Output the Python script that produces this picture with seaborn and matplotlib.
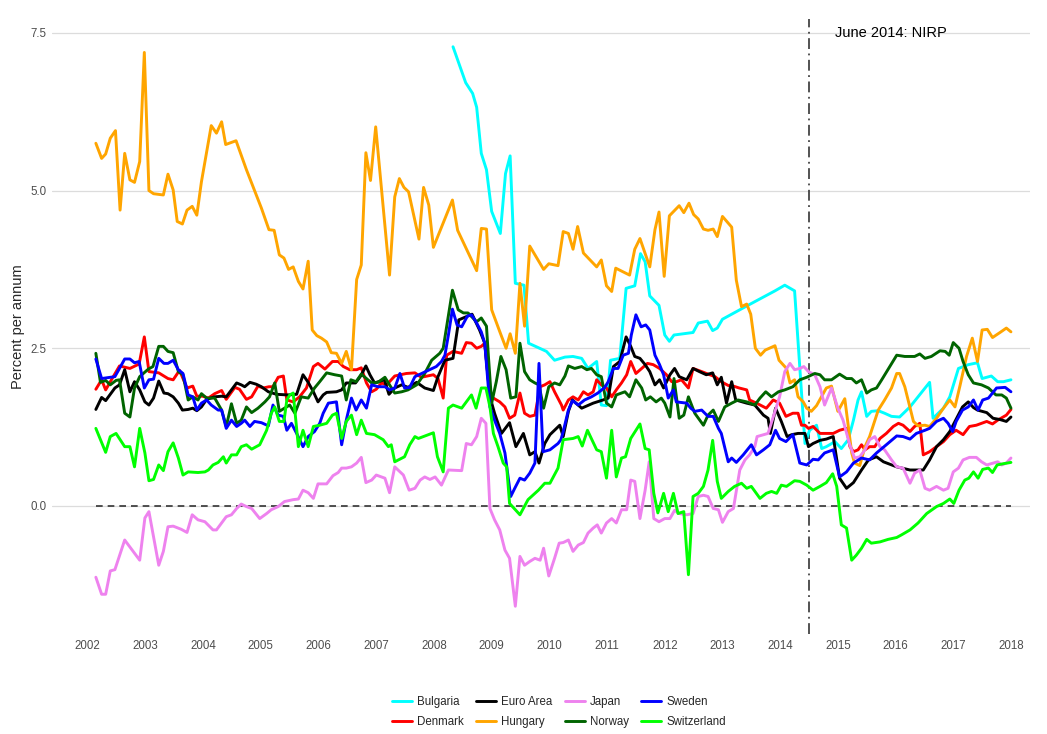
import pandas as pd
import seaborn as sns
import matplotlib.pyplot as plt

# данные (годы в десятичном виде, проценты годовых)
countries = ['Bulgaria', 'Denmark', 'Euro Area', 'Hungary', 'Japan', 'Norway', 'Sweden', 'Switzerland']
colors = ['#00FFFF', '#FF0000', '#000000', '#FFA500', '#EE82EE', '#006400', '#0000FF', '#00FF00']

bg_x = [2008.33, 2008.55, 2008.67, 2008.74, 2008.82, 2008.91, 2009.00, 2009.15, 2009.24, 2009.32, 2009.41, 2009.56,
        2009.64, 2009.95, 2010.01, 2010.09, 2010.27, 2010.41, 2010.56, 2010.67, 2010.82, 2010.90, 2010.99, 2011.06,
        2011.22, 2011.33, 2011.48, 2011.58, 2011.66, 2011.74, 2011.90, 2012.00, 2012.08, 2012.16, 2012.49, 2012.58,
        2012.74, 2012.83, 2012.91, 2013.00, 2013.42, 2013.91, 2014.08, 2014.25, 2014.43, 2014.51, 2014.63, 2014.72,
        2014.80, 2014.95, 2015.06, 2015.18, 2015.27, 2015.35, 2015.41, 2015.50, 2015.58, 2015.70, 2015.81, 2015.93,
        2016.07, 2016.25, 2016.59, 2016.65, 2016.83, 2016.94, 2017.09, 2017.26, 2017.42, 2017.50, 2017.66, 2017.77,
        2017.87, 2018.00]
bg_y = [7.28, 6.71, 6.54, 6.32, 5.59, 5.33, 4.67, 4.32, 5.27, 5.55, 3.53, 3.50,
        2.58, 2.45, 2.39, 2.31, 2.36, 2.37, 2.34, 2.18, 2.29, 1.60, 1.59, 2.31,
        2.34, 3.45, 3.49, 4.00, 3.87, 3.33, 3.18, 2.71, 2.61, 2.71, 2.75, 2.90,
        2.93, 2.78, 2.82, 2.96, 3.17, 3.41, 3.50, 3.41, 0.99, 1.20, 1.28, 0.91,
        0.94, 1.02, 0.91, 1.05, 1.36, 1.68, 1.81, 1.42, 1.50, 1.51, 1.47, 1.42,
        1.41, 1.57, 1.96, 1.39, 1.55, 1.73, 2.18, 2.24, 2.27, 2.02, 2.06, 1.97,
        1.97, 2.00]

dk_x = [2002.14, 2002.24, 2002.31, 2002.41, 2002.55, 2002.73, 2002.89, 2002.98, 2003.06, 2003.23, 2003.39, 2003.48,
        2003.59, 2003.72, 2003.82, 2003.89, 2003.99, 2004.09, 2004.20, 2004.32, 2004.40, 2004.55, 2004.63, 2004.75,
        2004.84, 2004.95, 2005.04, 2005.14, 2005.21, 2005.30, 2005.39, 2005.45, 2005.56, 2005.67, 2005.79, 2005.91,
        2005.99, 2006.11, 2006.24, 2006.34, 2006.43, 2006.54, 2006.66, 2006.74, 2006.83, 2006.92, 2007.00, 2007.09,
        2007.18, 2007.32, 2007.52, 2007.67, 2007.78, 2007.99, 2008.07, 2008.16, 2008.22, 2008.33, 2008.48, 2008.56,
        2008.65, 2008.74, 2008.82, 2008.88, 2008.97, 2009.03, 2009.14, 2009.23, 2009.31, 2009.40, 2009.49, 2009.57,
        2009.66, 2009.75, 2009.84, 2009.92, 2010.01, 2010.09, 2010.21, 2010.24, 2010.33, 2010.41, 2010.50, 2010.59,
        2010.67, 2010.76, 2010.82, 2010.90, 2010.99, 2011.08, 2011.16, 2011.25, 2011.34, 2011.41, 2011.50, 2011.60,
        2011.70, 2011.80, 2011.91, 2012.03, 2012.12, 2012.20, 2012.29, 2012.41, 2012.49, 2012.64, 2012.78, 2012.87,
        2012.98, 2013.10, 2013.19, 2013.29, 2013.42, 2013.47, 2013.59, 2013.76, 2013.88, 2013.99, 2014.10, 2014.22,
        2014.31, 2014.37, 2014.43, 2014.49, 2014.57, 2014.69, 2014.80, 2014.92, 2015.03, 2015.15, 2015.21, 2015.27,
        2015.35, 2015.41, 2015.47, 2015.55, 2015.64, 2015.73, 2015.84, 2015.96, 2016.05, 2016.13, 2016.25, 2016.33,
        2016.42, 2016.48, 2016.59, 2016.71, 2016.83, 2016.94, 2017.05, 2017.17, 2017.28, 2017.40, 2017.58, 2017.68,
        2017.77, 2017.92, 2018.00]
dk_y = [1.85, 2.00, 1.84, 2.00, 2.22, 2.18, 2.25, 2.68, 2.13, 2.11, 2.02, 2.00,
        2.15, 1.87, 1.90, 1.74, 1.74, 1.71, 1.78, 1.83, 1.69, 1.88, 1.85, 1.69,
        1.73, 1.90, 1.87, 1.89, 1.89, 2.04, 2.06, 1.68, 1.65, 1.73, 1.87, 2.21,
        2.26, 2.17, 2.29, 2.29, 2.21, 2.16, 2.16, 2.19, 1.95, 1.81, 1.85, 1.95,
        1.92, 2.06, 2.10, 2.11, 2.04, 2.08, 2.02, 1.71, 2.39, 2.45, 2.42, 2.59,
        2.58, 2.50, 2.53, 2.58, 1.75, 1.71, 1.65, 1.57, 1.39, 1.44, 1.79, 1.47,
        1.42, 1.44, 1.89, 1.92, 1.97, 1.81, 1.60, 1.52, 1.68, 1.73, 1.68, 1.81,
        1.76, 1.81, 2.00, 1.92, 1.87, 1.73, 1.84, 1.95, 2.08, 2.29, 2.10, 2.18,
        2.26, 2.24, 2.18, 2.08, 1.97, 1.97, 2.00, 1.87, 2.18, 2.13, 2.08, 2.05,
        1.97, 1.91, 1.90, 1.87, 1.84, 1.68, 1.63, 1.55, 1.68, 1.63, 1.42, 1.47,
        1.47, 1.28, 1.28, 1.23, 1.26, 1.15, 1.15, 1.15, 1.20, 1.23, 0.94, 0.86,
        0.89, 0.97, 0.89, 0.94, 0.94, 1.07, 1.15, 1.26, 1.31, 1.28, 1.18, 1.26,
        1.31, 0.81, 0.86, 0.94, 1.02, 1.13, 1.20, 1.13, 1.26, 1.28, 1.34, 1.30,
        1.36, 1.44, 1.53]

ea_x = [2002.14, 2002.24, 2002.31, 2002.47, 2002.55, 2002.64, 2002.73, 2002.81, 2002.90, 2002.99, 2003.06, 2003.14,
        2003.23, 2003.32, 2003.39, 2003.48, 2003.57, 2003.64, 2003.74, 2003.82, 2003.89, 2003.97, 2004.06, 2004.20,
        2004.32, 2004.40, 2004.58, 2004.66, 2004.72, 2004.81, 2004.92, 2005.01, 2005.13, 2005.27, 2005.47, 2005.62,
        2005.73, 2005.82, 2005.91, 2005.99, 2006.08, 2006.14, 2006.31, 2006.40, 2006.48, 2006.64, 2006.73, 2006.82,
        2006.89, 2006.97, 2007.14, 2007.22, 2007.32, 2007.44, 2007.55, 2007.70, 2007.84, 2007.99, 2008.07, 2008.19,
        2008.33, 2008.43, 2008.66, 2008.79, 2008.88, 2008.97, 2009.05, 2009.17, 2009.31, 2009.42, 2009.55, 2009.66,
        2009.75, 2009.82, 2009.92, 2010.01, 2010.18, 2010.24, 2010.33, 2010.40, 2010.56, 2010.76, 2010.93, 2011.02,
        2011.11, 2011.22, 2011.33, 2011.41, 2011.48, 2011.57, 2011.66, 2011.74, 2011.83, 2011.91, 2011.98, 2012.09,
        2012.17, 2012.25, 2012.38, 2012.49, 2012.60, 2012.72, 2012.83, 2012.91, 2012.98, 2013.07, 2013.16, 2013.23,
        2013.42, 2013.56, 2013.71, 2013.79, 2013.83, 2013.92, 2014.02, 2014.12, 2014.20, 2014.31, 2014.43, 2014.49,
        2014.57, 2014.69, 2014.80, 2014.92, 2015.03, 2015.15, 2015.27, 2015.41, 2015.53, 2015.67, 2015.79, 2016.02,
        2016.25, 2016.48, 2016.59, 2016.71, 2016.83, 2016.94, 2017.03, 2017.16, 2017.26, 2017.35, 2017.42, 2017.58,
        2017.69, 2017.81, 2017.92, 2018.00]
ea_y = [1.53, 1.72, 1.67, 1.87, 1.92, 2.16, 1.81, 1.97, 1.84, 1.65, 1.60, 1.71,
        1.98, 1.79, 1.78, 1.73, 1.63, 1.52, 1.53, 1.55, 1.51, 1.57, 1.69, 1.73,
        1.74, 1.73, 1.95, 1.92, 1.89, 1.96, 1.93, 1.89, 1.81, 1.77, 1.76, 1.77,
        2.08, 1.96, 1.81, 1.65, 1.76, 1.80, 1.81, 1.84, 1.95, 1.95, 2.06, 2.22,
        2.08, 1.95, 2.00, 1.77, 1.87, 1.92, 1.88, 1.96, 1.87, 1.83, 2.05, 2.31,
        2.34, 2.95, 3.04, 2.79, 2.58, 1.73, 1.47, 1.15, 1.32, 0.94, 1.15, 0.81,
        0.86, 0.68, 0.99, 1.13, 1.28, 1.10, 1.50, 1.68, 1.55, 1.63, 1.68, 1.71,
        2.21, 2.29, 2.68, 2.53, 2.37, 2.34, 2.24, 2.13, 1.92, 2.00, 1.87, 2.08,
        2.18, 2.05, 2.00, 2.18, 2.13, 2.08, 2.11, 1.92, 2.04, 1.63, 1.97, 1.68,
        1.63, 1.60, 1.44, 1.39, 1.15, 1.55, 1.34, 1.10, 1.13, 1.15, 1.15, 0.94,
        0.99, 1.04, 1.06, 1.10, 0.44, 0.28, 0.37, 0.57, 0.73, 0.78, 0.70, 0.62,
        0.57, 0.57, 0.73, 0.94, 1.05, 1.18, 1.34, 1.57, 1.65, 1.56, 1.52, 1.48,
        1.39, 1.37, 1.34, 1.41]

hu_x = [2002.14, 2002.24, 2002.31, 2002.39, 2002.48, 2002.56, 2002.64, 2002.73, 2002.81, 2002.90, 2002.98, 2003.06,
        2003.14, 2003.31, 2003.39, 2003.48, 2003.55, 2003.64, 2003.72, 2003.81, 2003.89, 2003.97, 2004.14, 2004.23,
        2004.32, 2004.39, 2004.57, 2004.75, 2005.01, 2005.14, 2005.23, 2005.32, 2005.40, 2005.48, 2005.56, 2005.65,
        2005.73, 2005.82, 2005.89, 2005.97, 2006.05, 2006.14, 2006.22, 2006.31, 2006.40, 2006.48, 2006.57, 2006.66,
        2006.74, 2006.82, 2006.90, 2006.99, 2007.23, 2007.32, 2007.40, 2007.48, 2007.56, 2007.74, 2007.82, 2007.91,
        2007.99, 2008.32, 2008.41, 2008.74, 2008.82, 2008.91, 2009.00, 2009.15, 2009.25, 2009.32, 2009.41, 2009.49,
        2009.57, 2009.66, 2009.90, 2009.99, 2010.15, 2010.24, 2010.33, 2010.41, 2010.49, 2010.59, 2010.82, 2010.90,
        2010.99, 2011.08, 2011.15, 2011.39, 2011.48, 2011.57, 2011.74, 2011.83, 2011.90, 2011.99, 2012.08, 2012.25,
        2012.33, 2012.42, 2012.50, 2012.58, 2012.67, 2012.75, 2012.84, 2012.91, 2013.00, 2013.16, 2013.24, 2013.33,
        2013.42, 2013.49, 2013.57, 2013.66, 2013.74, 2013.91, 2013.98, 2014.11, 2014.17, 2014.25, 2014.31, 2014.40,
        2014.46, 2014.54, 2014.63, 2014.80, 2014.89, 2015.00, 2015.12, 2015.24, 2015.29, 2015.38, 2015.47, 2015.55,
        2015.70, 2015.81, 2015.93, 2016.02, 2016.07, 2016.16, 2016.31, 2016.39, 2016.51, 2016.59, 2016.71, 2016.83,
        2016.94, 2017.03, 2017.12, 2017.23, 2017.33, 2017.42, 2017.50, 2017.59, 2017.68, 2017.81, 2017.92, 2018.00]
hu_y = [5.75, 5.51, 5.58, 5.83, 5.95, 4.69, 5.59, 5.17, 5.13, 5.46, 7.19, 5.00,
        4.95, 4.93, 5.26, 5.01, 4.51, 4.47, 4.69, 4.75, 4.61, 5.14, 6.03, 5.91,
        6.09, 5.73, 5.79, 5.33, 4.72, 4.38, 4.37, 3.98, 3.93, 3.75, 3.79, 3.56,
        3.44, 3.88, 2.79, 2.70, 2.66, 2.60, 2.43, 2.42, 2.26, 2.45, 2.16, 3.59,
        3.82, 5.60, 5.16, 6.01, 3.66, 4.90, 5.19, 5.05, 4.98, 4.23, 5.05, 4.77,
        4.10, 4.85, 4.37, 3.73, 4.40, 4.39, 3.11, 2.74, 2.50, 2.73, 2.42, 3.53,
        2.85, 4.12, 3.75, 3.84, 3.81, 4.35, 4.32, 4.07, 4.43, 4.01, 3.79, 3.90,
        3.49, 3.40, 3.77, 3.66, 4.07, 4.24, 3.79, 4.38, 4.66, 3.64, 4.60, 4.76,
        4.65, 4.80, 4.62, 4.55, 4.39, 4.37, 4.39, 4.27, 4.59, 4.42, 3.58, 3.16,
        3.20, 3.04, 2.50, 2.39, 2.47, 2.54, 2.31, 2.18, 1.95, 2.00, 1.73, 1.65,
        1.55, 1.50, 1.59, 1.87, 1.90, 1.50, 1.70, 0.84, 0.68, 0.64, 0.94, 1.10,
        1.52, 1.68, 1.87, 2.10, 2.10, 1.89, 1.34, 1.27, 1.28, 1.26, 1.39, 1.55,
        1.68, 1.57, 1.92, 2.37, 2.66, 2.29, 2.79, 2.80, 2.67, 2.75, 2.82, 2.76]

jp_x = [2002.14, 2002.24, 2002.31, 2002.39, 2002.47, 2002.64, 2002.90, 2002.99, 2003.06, 2003.23, 2003.31, 2003.39,
        2003.48, 2003.62, 2003.72, 2003.81, 2003.91, 2004.03, 2004.17, 2004.23, 2004.32, 2004.40, 2004.49, 2004.58,
        2004.66, 2004.75, 2004.84, 2004.98, 2005.10, 2005.18, 2005.30, 2005.41, 2005.56, 2005.65, 2005.73, 2005.82,
        2005.91, 2005.99, 2006.14, 2006.25, 2006.34, 2006.40, 2006.48, 2006.57, 2006.66, 2006.74, 2006.82, 2006.92,
        2007.00, 2007.15, 2007.23, 2007.32, 2007.47, 2007.57, 2007.67, 2007.76, 2007.84, 2007.93, 2008.02, 2008.13,
        2008.25, 2008.48, 2008.56, 2008.65, 2008.74, 2008.82, 2008.90, 2008.97, 2009.05, 2009.14, 2009.23, 2009.31,
        2009.41, 2009.49, 2009.57, 2009.66, 2009.75, 2009.84, 2009.90, 2009.99, 2010.09, 2010.17, 2010.24, 2010.33,
        2010.41, 2010.50, 2010.59, 2010.67, 2010.76, 2010.83, 2010.90, 2010.99, 2011.08, 2011.16, 2011.25, 2011.34,
        2011.41, 2011.48, 2011.57, 2011.66, 2011.73, 2011.81, 2011.90, 2012.00, 2012.09, 2012.17, 2012.25, 2012.38,
        2012.49, 2012.58, 2012.67, 2012.75, 2012.84, 2012.93, 2013.00, 2013.10, 2013.19, 2013.30, 2013.39, 2013.47,
        2013.56, 2013.60, 2013.71, 2013.79, 2013.89, 2013.99, 2014.08, 2014.17, 2014.25, 2014.34, 2014.41, 2014.49,
        2014.60, 2014.69, 2014.77, 2014.89, 2015.00, 2015.09, 2015.20, 2015.29, 2015.38, 2015.47, 2015.55, 2015.64,
        2015.73, 2015.81, 2015.93, 2016.02, 2016.13, 2016.25, 2016.33, 2016.42, 2016.51, 2016.59, 2016.71, 2016.83,
        2016.91, 2017.00, 2017.09, 2017.17, 2017.28, 2017.40, 2017.49, 2017.58, 2017.69, 2017.77, 2017.84, 2017.92,
        2018.00]
jp_y = [-1.13, -1.40, -1.40, -1.03, -1.01, -0.54, -0.86, -0.19, -0.09, -0.94, -0.72, -0.33,
        -0.32, -0.37, -0.42, -0.14, -0.22, -0.25, -0.38, -0.38, -0.27, -0.17, -0.14, -0.04,
        0.03, -0.01, -0.04, -0.20, -0.12, -0.06, -0.01, 0.07, 0.10, 0.11, 0.25, 0.21,
        0.12, 0.35, 0.35, 0.48, 0.53, 0.60, 0.60, 0.62, 0.68, 0.77, 0.37, 0.41,
        0.49, 0.44, 0.21, 0.62, 0.49, 0.25, 0.28, 0.41, 0.46, 0.42, 0.46, 0.33,
        0.57, 0.56, 0.99, 0.97, 1.10, 1.39, 1.31, -0.04, -0.22, -0.38, -0.70, -0.83,
        -1.59, -0.80, -0.94, -0.88, -0.83, -0.86, -0.67, -1.11, -0.83, -0.59, -0.58, -0.54,
        -0.72, -0.62, -0.58, -0.43, -0.35, -0.30, -0.43, -0.27, -0.20, -0.27, -0.06, -0.06,
        0.41, 0.39, -0.20, 0.25, 0.70, -0.20, -0.25, -0.20, -0.20, -0.07, -0.12, -0.14,
        -0.12, 0.15, 0.17, 0.15, -0.04, -0.06, -0.26, -0.09, -0.04, 0.57, 0.73, 0.81,
        0.94, 1.10, 1.13, 1.15, 1.44, 1.73, 2.13, 2.26, 2.16, 2.18, 2.21, 2.13,
        2.08, 1.89, 1.60, 1.87, 1.55, 1.36, 0.99, 0.76, 0.78, 0.89, 1.05, 1.10,
        0.94, 0.89, 0.73, 0.62, 0.60, 0.36, 0.52, 0.57, 0.28, 0.25, 0.31, 0.25,
        0.28, 0.54, 0.60, 0.73, 0.77, 0.77, 0.70, 0.65, 0.68, 0.70, 0.65, 0.68,
        0.76]

no_x = [2002.14, 2002.22, 2002.31, 2002.39, 2002.49, 2002.55, 2002.64, 2002.73, 2002.81, 2002.90, 2003.05, 2003.13,
        2003.23, 2003.31, 2003.39, 2003.48, 2003.57, 2003.65, 2003.74, 2003.82, 2003.91, 2003.97, 2004.06, 2004.20,
        2004.32, 2004.40, 2004.49, 2004.58, 2004.66, 2004.75, 2004.84, 2004.95, 2005.07, 2005.15, 2005.24, 2005.32,
        2005.41, 2005.50, 2005.59, 2005.70, 2005.82, 2005.93, 2006.02, 2006.14, 2006.28, 2006.40, 2006.48, 2006.56,
        2006.65, 2006.74, 2006.83, 2006.92, 2007.03, 2007.15, 2007.23, 2007.32, 2007.44, 2007.55, 2007.70, 2007.84,
        2007.96, 2008.10, 2008.16, 2008.32, 2008.42, 2008.51, 2008.59, 2008.74, 2008.82, 2008.91, 2008.94, 2009.00,
        2009.08, 2009.16, 2009.25, 2009.33, 2009.42, 2009.49, 2009.57, 2009.66, 2009.75, 2009.82, 2009.90, 2009.99,
        2010.09, 2010.18, 2010.27, 2010.33, 2010.44, 2010.56, 2010.65, 2010.73, 2010.82, 2010.90, 2010.99, 2011.08,
        2011.16, 2011.31, 2011.39, 2011.50, 2011.60, 2011.67, 2011.75, 2011.85, 2011.94, 2012.00, 2012.09, 2012.16,
        2012.25, 2012.33, 2012.41, 2012.52, 2012.67, 2012.75, 2012.84, 2012.93, 2013.04, 2013.16, 2013.27, 2013.42,
        2013.56, 2013.65, 2013.75, 2013.85, 2013.97, 2014.08, 2014.22, 2014.34, 2014.46, 2014.60, 2014.69, 2014.77,
        2014.89, 2015.03, 2015.15, 2015.24, 2015.32, 2015.41, 2015.50, 2015.58, 2015.67, 2015.76, 2015.90, 2016.02,
        2016.16, 2016.33, 2016.42, 2016.51, 2016.62, 2016.77, 2016.86, 2016.93, 2017.00, 2017.10, 2017.17, 2017.26,
        2017.35, 2017.49, 2017.61, 2017.74, 2017.84, 2017.92, 2018.00]
no_y = [2.42, 1.96, 1.99, 1.92, 1.99, 2.00, 1.47, 1.41, 1.87, 2.05, 2.17, 2.21,
        2.53, 2.53, 2.45, 2.43, 2.13, 2.08, 1.68, 1.73, 1.68, 1.78, 1.71, 1.71,
        1.52, 1.26, 1.62, 1.31, 1.36, 1.57, 1.48, 1.55, 1.65, 1.73, 1.95, 1.50,
        1.55, 1.60, 1.47, 1.73, 1.71, 1.87, 1.97, 2.11, 2.08, 2.06, 1.68, 2.00,
        1.97, 2.09, 2.02, 1.95, 1.96, 2.04, 1.92, 1.79, 1.81, 1.84, 1.92, 2.10,
        2.31, 2.42, 2.50, 3.42, 3.11, 3.06, 3.06, 2.92, 2.98, 2.85, 2.42, 1.63,
        1.97, 2.37, 2.16, 1.71, 1.73, 2.58, 2.13, 2.00, 1.95, 1.92, 1.55, 1.89,
        1.95, 1.92, 2.06, 2.22, 2.18, 2.21, 2.16, 2.18, 2.08, 2.05, 1.63, 1.57,
        1.76, 1.81, 1.73, 2.00, 1.87, 1.68, 1.73, 1.65, 1.71, 1.63, 1.41, 2.02,
        1.39, 1.44, 1.73, 1.47, 1.28, 1.44, 1.52, 1.34, 1.57, 1.63, 1.68, 1.65,
        1.60, 1.71, 1.81, 1.73, 1.81, 1.84, 1.89, 2.00, 2.04, 2.10, 2.08, 2.00,
        2.00, 2.09, 2.02, 2.02, 1.95, 2.00, 1.79, 1.84, 1.87, 2.00, 2.21, 2.39,
        2.37, 2.37, 2.41, 2.34, 2.37, 2.46, 2.45, 2.39, 2.59, 2.50, 2.29, 2.08,
        1.95, 1.92, 1.87, 1.76, 1.76, 1.71, 1.55]

se_x = [2002.14, 2002.24, 2002.47, 2002.55, 2002.64, 2002.73, 2002.81, 2002.89, 2002.98, 2003.06, 2003.14, 2003.23,
        2003.32, 2003.39, 2003.48, 2003.57, 2003.65, 2003.74, 2003.82, 2003.89, 2003.97, 2004.06, 2004.14, 2004.26,
        2004.32, 2004.40, 2004.49, 2004.58, 2004.66, 2004.72, 2004.81, 2004.89, 2005.01, 2005.13, 2005.21, 2005.30,
        2005.39, 2005.45, 2005.53, 2005.62, 2005.73, 2005.82, 2005.93, 2006.02, 2006.08, 2006.17, 2006.31, 2006.40,
        2006.48, 2006.57, 2006.65, 2006.74, 2006.83, 2006.92, 2007.03, 2007.15, 2007.23, 2007.32, 2007.41, 2007.49,
        2007.58, 2007.67, 2007.81, 2007.93, 2008.04, 2008.13, 2008.19, 2008.25, 2008.32, 2008.40, 2008.48, 2008.58,
        2008.65, 2008.74, 2008.82, 2008.88, 2008.97, 2009.05, 2009.14, 2009.23, 2009.33, 2009.40, 2009.49, 2009.57,
        2009.66, 2009.75, 2009.82, 2009.89, 2010.01, 2010.15, 2010.20, 2010.24, 2010.33, 2010.40, 2010.50, 2010.61,
        2010.73, 2010.84, 2010.96, 2011.02, 2011.11, 2011.19, 2011.28, 2011.37, 2011.42, 2011.50, 2011.59, 2011.67,
        2011.74, 2011.83, 2011.91, 2011.98, 2012.06, 2012.15, 2012.20, 2012.38, 2012.45, 2012.52, 2012.64, 2012.75,
        2012.84, 2012.93, 2012.98, 2013.10, 2013.16, 2013.24, 2013.36, 2013.50, 2013.59, 2013.71, 2013.82, 2013.92,
        2013.99, 2014.10, 2014.22, 2014.34, 2014.46, 2014.57, 2014.66, 2014.77, 2014.92, 2015.03, 2015.15, 2015.27,
        2015.41, 2015.55, 2015.67, 2015.84, 2016.02, 2016.13, 2016.25, 2016.36, 2016.51, 2016.59, 2016.71, 2016.83,
        2016.91, 2016.99, 2017.05, 2017.16, 2017.26, 2017.35, 2017.43, 2017.51, 2017.61, 2017.75, 2017.90, 2018.00]
se_y = [2.33, 2.02, 2.05, 2.18, 2.33, 2.33, 2.27, 2.29, 1.87, 2.00, 2.01, 2.34,
        2.26, 2.26, 2.31, 2.16, 2.10, 1.76, 1.73, 1.52, 1.63, 1.68, 1.60, 1.52,
        1.52, 1.23, 1.36, 1.26, 1.31, 1.36, 1.26, 1.34, 1.32, 1.27, 1.60, 1.44,
        1.42, 1.20, 1.31, 1.15, 0.94, 1.10, 1.18, 1.31, 1.47, 1.63, 1.65, 0.97,
        1.36, 1.71, 1.52, 1.68, 1.55, 1.92, 1.89, 1.89, 1.84, 1.87, 2.10, 1.87,
        1.88, 2.05, 2.11, 2.16, 2.21, 2.29, 2.39, 2.71, 3.12, 2.87, 2.84, 3.01,
        3.03, 2.90, 2.76, 2.58, 1.57, 1.36, 1.15, 0.84, 0.15, 0.28, 0.44, 0.41,
        0.52, 0.68, 2.26, 0.86, 0.89, 0.99, 1.05, 1.18, 1.52, 1.67, 1.60, 1.68,
        1.73, 1.79, 1.88, 1.97, 2.18, 2.18, 2.39, 2.42, 2.71, 3.03, 2.84, 2.87,
        2.79, 2.39, 2.24, 2.08, 1.71, 1.84, 1.65, 1.63, 1.55, 1.50, 1.52, 1.42,
        1.42, 1.23, 1.15, 0.70, 0.76, 0.69, 0.81, 0.97, 0.81, 0.89, 0.97, 1.20,
        1.07, 1.02, 1.13, 0.68, 0.65, 0.74, 0.73, 0.84, 0.89, 0.46, 0.54, 0.68,
        0.76, 0.73, 0.84, 0.97, 1.11, 1.10, 1.06, 1.15, 1.20, 1.23, 1.34, 1.39,
        1.31, 1.18, 1.34, 1.52, 1.57, 1.68, 1.52, 1.68, 1.71, 1.87, 1.88, 1.81]

ch_x = [2002.14, 2002.31, 2002.39, 2002.49, 2002.64, 2002.73, 2002.81, 2002.90, 2002.99, 2003.06, 2003.14, 2003.23,
        2003.31, 2003.39, 2003.48, 2003.57, 2003.65, 2003.74, 2003.91, 2004.03, 2004.09, 2004.17, 2004.26, 2004.35,
        2004.40, 2004.49, 2004.58, 2004.66, 2004.75, 2004.84, 2004.98, 2005.10, 2005.18, 2005.24, 2005.32, 2005.40,
        2005.45, 2005.50, 2005.56, 2005.65, 2005.73, 2005.82, 2005.91, 2006.02, 2006.14, 2006.24, 2006.31, 2006.40,
        2006.48, 2006.57, 2006.66, 2006.74, 2006.83, 2006.97, 2007.12, 2007.21, 2007.26, 2007.32, 2007.49, 2007.58,
        2007.67, 2007.73, 2007.99, 2008.06, 2008.16, 2008.25, 2008.33, 2008.48, 2008.65, 2008.73, 2008.82, 2008.90,
        2008.97, 2009.03, 2009.11, 2009.20, 2009.26, 2009.31, 2009.49, 2009.63, 2009.81, 2009.92, 2010.01, 2010.15,
        2010.24, 2010.41, 2010.50, 2010.57, 2010.66, 2010.82, 2010.90, 2010.99, 2011.08, 2011.16, 2011.25, 2011.32,
        2011.41, 2011.57, 2011.66, 2011.73, 2011.81, 2011.88, 2011.98, 2012.06, 2012.15, 2012.23, 2012.33, 2012.41,
        2012.49, 2012.58, 2012.67, 2012.75, 2012.83, 2012.91, 2012.98, 2013.10, 2013.21, 2013.33, 2013.42, 2013.50,
        2013.65, 2013.76, 2013.85, 2013.94, 2014.02, 2014.11, 2014.25, 2014.34, 2014.46, 2014.57, 2014.69, 2014.80,
        2014.91, 2014.98, 2015.06, 2015.15, 2015.24, 2015.32, 2015.41, 2015.50, 2015.58, 2015.73, 2015.87, 2016.02,
        2016.10, 2016.25, 2016.39, 2016.54, 2016.71, 2016.83, 2016.94, 2017.01, 2017.10, 2017.20, 2017.27, 2017.35,
        2017.43, 2017.51, 2017.61, 2017.68, 2017.76, 2017.87, 2018.00]
ch_y = [1.23, 0.85, 1.10, 1.15, 0.94, 0.94, 0.62, 1.23, 0.84, 0.40, 0.42, 0.65,
        0.56, 0.86, 1.00, 0.76, 0.49, 0.54, 0.53, 0.54, 0.57, 0.65, 0.69, 0.78,
        0.68, 0.81, 0.81, 0.94, 0.97, 0.90, 0.97, 1.20, 1.47, 1.57, 1.34, 1.34,
        1.68, 1.76, 1.79, 0.94, 1.20, 0.94, 1.26, 1.28, 1.31, 1.44, 1.47, 1.07,
        1.34, 1.44, 1.13, 1.36, 1.15, 1.13, 1.05, 0.94, 0.97, 0.70, 0.78, 0.97,
        1.10, 1.07, 1.16, 0.78, 0.54, 1.55, 1.60, 1.55, 1.76, 1.55, 1.87, 1.87,
        1.57, 1.15, 0.94, 0.68, 0.62, 0.04, -0.14, 0.10, 0.25, 0.36, 0.36, 0.60,
        1.05, 1.07, 1.10, 0.95, 1.20, 0.89, 0.86, 0.44, 1.20, 0.46, 0.76, 0.78,
        1.07, 1.30, 0.91, 0.89, 0.20, -0.11, 0.20, -0.09, 0.20, -0.12, -0.09, -1.09,
        0.15, 0.20, 0.31, 0.57, 1.04, 0.39, 0.12, 0.23, 0.31, 0.36, 0.28, 0.31,
        0.12, 0.20, 0.23, 0.20, 0.33, 0.31, 0.40, 0.39, 0.33, 0.25, 0.31, 0.37,
        0.51, 0.31, -0.30, -0.35, -0.86, -0.78, -0.67, -0.53, -0.59, -0.57, -0.53, -0.50,
        -0.46, -0.38, -0.27, -0.12, -0.01, 0.04, 0.11, 0.04, 0.25, 0.41, 0.44, 0.54,
        0.44, 0.58, 0.60, 0.53, 0.65, 0.67, 0.69]

series = [(bg_x, bg_y), (dk_x, dk_y), (ea_x, ea_y), (hu_x, hu_y),
          (jp_x, jp_y), (no_x, no_y), (se_x, se_y), (ch_x, ch_y)]
parts = []
for name, (xs, ys) in zip(countries, series):
    parts.append(pd.DataFrame({'year': xs, 'rate': ys, 'country': name}))
df = pd.concat(parts, ignore_index=True)

sns.set_style('white')
plt.rcParams['font.family'] = ['Liberation Sans', 'DejaVu Sans']

fig = plt.figure(figsize=(10.47, 7.34), dpi=100)
ax = fig.add_axes([52 / 1047, 1 - 634 / 734, 978 / 1047, 615 / 734])

# нулевая линия и вертикальная отметка июня 2014
ax.hlines(0, 2002.14, 2018.0, colors='#333333', linestyles=(0, (4, 3)), lw=1.2, zorder=1)
ax.axvline(2014.5, color='#444444', ls=(0, (6, 2.5, 1, 2.5)), lw=1.3, zorder=1)

sns.lineplot(data=df, x='year', y='rate', hue='country', hue_order=countries,
             palette=colors, linewidth=2.1, estimator=None, sort=False, ax=ax)

ax.text(2015.92, 7.5, 'June 2014: NIRP', ha='center', va='center', fontsize=10.5, color='black')

ax.set_xlim(2001.38, 2018.33)
ax.set_ylim(-2.03, 7.72)
ax.set_xticks(range(2002, 2019))
ax.set_yticks([0, 2.5, 5, 7.5])
ax.set_yticklabels(['0.0', '2.5', '5.0', '7.5'])
ax.set_xlabel('')
ax.set_ylabel('Percent per annum', fontsize=10.5, labelpad=4)
ax.tick_params(axis='both', length=0, labelsize=8.3, labelcolor='#4d4d4d', pad=4)
ax.yaxis.grid(True, color='#dcdcdc', lw=0.9)
ax.xaxis.grid(False)
for s in ax.spines.values():
    s.set_visible(False)

h, l = ax.get_legend_handles_labels()
ax.get_legend().remove()
fig.legend(h, l, loc='center', bbox_to_anchor=(559 / 1047, 1 - 712 / 734), ncol=4,
           frameon=False, fontsize=8.3, handlelength=1.7, handletextpad=0.45,
           columnspacing=1.1, labelspacing=0.75)

plt.savefig('out.png', dpi=100)
